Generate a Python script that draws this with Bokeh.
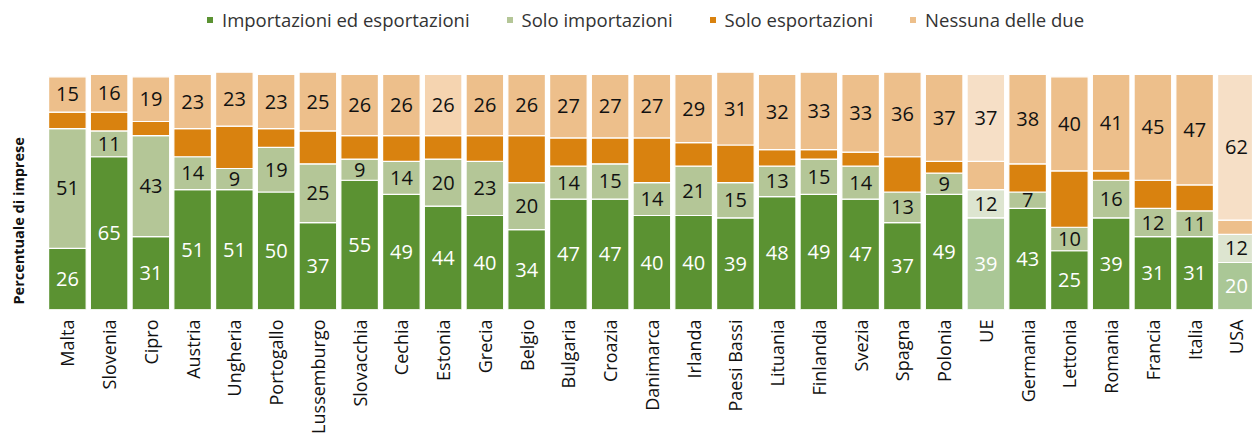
from math import pi
from bokeh.plotting import figure
from bokeh.models import ColumnDataSource, Range1d, FixedTicker, Legend, LegendItem, Label
from bokeh.core.properties import value
from bokeh.embed import file_html
from bokeh.resources import INLINE

countries = ["Malta", "Slovenia", "Cipro", "Austria", "Ungheria", "Portogallo", "Lussemburgo",
             "Slovacchia", "Cechia", "Estonia", "Grecia", "Belgio", "Bulgaria", "Croazia",
             "Danimarca", "Irlanda", "Paesi Bassi", "Lituania", "Finlandia", "Svezia", "Spagna",
             "Polonia", "UE", "Germania", "Lettonia", "Romania", "Francia", "Italia", "USA"]
import_export = [26, 65, 31, 51, 51, 50, 37, 55, 49, 44, 40, 34, 47, 47, 40, 40, 39, 48, 49, 47, 37, 49, 39, 43, 25, 39, 31, 31, 20]
import_only = [51, 11, 43, 14, 9, 19, 25, 9, 14, 20, 23, 20, 14, 15, 14, 21, 15, 13, 15, 14, 13, 9, 12, 7, 10, 16, 12, 11, 12]
export_only = [7, 8, 6, 12, 18, 8, 14, 10, 11, 10, 11, 20, 12, 11, 19, 10, 16, 7, 4, 6, 15, 5, 12, 12, 24, 4, 12, 11, 6]
neither = [15, 16, 19, 23, 23, 23, 25, 26, 26, 26, 26, 26, 27, 27, 27, 29, 31, 32, 33, 33, 36, 37, 37, 38, 40, 41, 45, 47, 62]

series_names = ["Importazioni ed esportazioni", "Solo importazioni", "Solo esportazioni", "Nessuna delle due"]
y_title = "Percentuale di imprese"

# styles
base_colors = ["#5B9232", "#B4C697", "#D9820F", "#EDBF8B"]
light_colors = ["#AAC796", "#DDE5D0", "#EDBF8B", "#F6DFC6"]
label_colors = ["white", "#111111", None, "#111111"]
highlight = {"UE", "USA"}

n = len(countries)
xs = list(range(n))
series = [import_export, import_only, export_only, neither]

data = {"x": xs}
bottoms = [0] * n
for k, s in enumerate(series):
    data[f"b{k}"] = list(bottoms)
    tops = [bottoms[i] + s[i] for i in range(n)]
    data[f"t{k}"] = tops
    cols = []
    for i, c in enumerate(countries):
        if c in highlight:
            cols.append(light_colors[k])
        elif c == "Estonia" and k == 3:
            cols.append("#F5D4B0")
        else:
            cols.append(base_colors[k])
    data[f"c{k}"] = cols
    bottoms = tops
src = ColumnDataSource(data)

W, H = 1252, 437
p = figure(width=W, height=H, output_backend="svg", toolbar_location=None,
           x_range=Range1d(-1.602, 28.386), y_range=Range1d(0, 131.49),
           min_border_left=0, min_border_right=0, min_border_top=0, min_border_bottom=128)

renderers = []
for k in range(4):
    r = p.vbar(x="x", bottom=f"b{k}", top=f"t{k}", width=0.9, source=src,
               fill_color=f"c{k}", line_color="white", line_width=1.2)
    renderers.append(r)

# value labels
lx, ly, lt, lc = [], [], [], []
for k, s in enumerate(series):
    if label_colors[k] is None:
        continue
    for i in range(n):
        lx.append(i)
        ly.append(data[f"b{k}"][i] + s[i] / 2)
        lt.append(str(s[i]))
        lc.append(label_colors[k])
lsrc = ColumnDataSource(dict(x=lx, y=ly, t=lt, c=lc))
p.text(x="x", y="y", text="t", text_color="c", source=lsrc, text_align="center",
       text_baseline="middle", text_font=value("Open Sans"), text_font_size="20px")

p.xgrid.visible = False
p.ygrid.visible = False
p.outline_line_color = None
p.yaxis.visible = False
p.background_fill_color = "white"

xa = p.xaxis[0]
xa.ticker = FixedTicker(ticks=xs)
xa.major_label_overrides = {i: c for i, c in enumerate(countries)}
xa.major_label_orientation = pi / 2
xa.axis_line_color = None
xa.major_tick_line_color = None
xa.minor_tick_line_color = None
xa.major_tick_out = 0
xa.major_tick_in = 0
xa.major_label_standoff = 10
xa.major_label_text_font = "Open Sans"
xa.major_label_text_font_size = "18px"
xa.major_label_text_color = "#111111"

legend = Legend(items=[LegendItem(label=series_names[k], renderers=[renderers[k]], index=0) for k in range(4)],
                orientation="horizontal", location=(205, 277),
                glyph_width=9, glyph_height=9, label_standoff=8, spacing=35,
                padding=0, margin=0, border_line_color=None, background_fill_alpha=0,
                label_text_font="Open Sans", label_text_font_size="18.5px", label_text_color="#333333")
p.add_layout(legend, "center")

ylab = Label(x=-1.159, y=37.7, text=y_title,
             angle=pi / 2, text_align="center", text_baseline="middle",
             text_font="Open Sans", text_font_style="bold", text_font_size="14.5px", text_color="#111111")
p.add_layout(ylab)

open("out.html", "w").write(file_html(p, INLINE))
